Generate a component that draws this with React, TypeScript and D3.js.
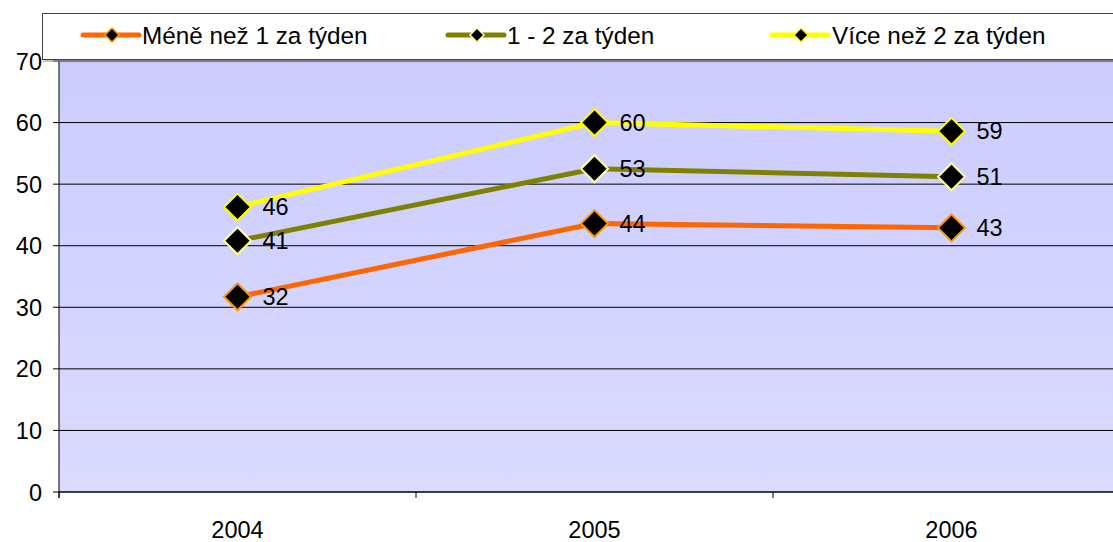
import React from "react";
import * as d3 from "d3";

const years = ["2004", "2005", "2006"];
const seriesNames = ["Méně než 1 za týden", "1 - 2 za týden", "Více než 2 za týden"];
const lessThanOne = [31.7, 43.6, 42.9];
const oneToTwo = [40.8, 52.5, 51.2];
const moreThanTwo = [46.3, 60.0, 58.6];
const yTicks = [0, 10, 20, 30, 40, 50, 60, 70];

const lineColors = ["#ff6600", "#808000", "#ffff00"];
const markerStrokes = ["#ff9900", "#ffff99", "#ffff00"];

export default function App() {
  const W = 1113, H = 542;
  const left = 59, top = 61, bottom = 492;
  const band = 357;
  const x = d3.scaleBand<string>().domain(years).range([left, left + band * 3]);
  const y = d3.scaleLinear().domain([0, 70]).range([bottom, top]);
  const data = [lessThanOne, oneToTwo, moreThanTwo];
  const line = d3
    .line<number>()
    .x((_, i) => (x(years[i]) as number) + x.bandwidth() / 2)
    .y((d) => y(d));
  const font = "'Liberation Sans', Arial, sans-serif";
  const fs = 23.5;
  const lfs = 24.3;
  const diamond = (cx: number, cy: number, r: number) =>
    `M${cx},${cy - r}L${cx + r},${cy}L${cx},${cy + r}L${cx - r},${cy}Z`;

  const legendItems = [
    { lx: 83, tx: 142 },
    { lx: 448, tx: 507 },
    { lx: 772, tx: 832 },
  ];

  return (
    <svg width={W} height={H} style={{ position: "absolute", left: 0, top: 0 }}>
      <defs>
        <linearGradient id="bg" x1="0" y1="0" x2="0" y2="1">
          <stop offset="0" stopColor="#ccccff" />
          <stop offset="1" stopColor="#dadaff" />
        </linearGradient>
      </defs>
      <rect x={0} y={0} width={W} height={H} fill="#ffffff" />
      <rect x={left} y={top} width={W - left} height={bottom - top} fill="url(#bg)" />
      {yTicks.map((t) => (
        <g key={t}>
          {t > 0 && (
            <line x1={left} x2={W} y1={y(t)} y2={y(t)} stroke="#000" strokeWidth={1} />
          )}
          <line x1={left - 6} x2={left} y1={y(t)} y2={y(t)} stroke="#000" strokeWidth={1} />
          <text x={42} y={y(t) + 8.5} fontSize={fs} fontFamily={font} textAnchor="end" fill="#000">
            {t}
          </text>
        </g>
      ))}
      <line x1={left} x2={left} y1={top} y2={bottom + 6} stroke="#000" strokeWidth={1} />
      <line x1={left} x2={W} y1={bottom} y2={bottom} stroke="#000" strokeWidth={1.5} />
      {[0, 1, 2, 3].map((i) => (
        <line key={i} x1={left + band * i} x2={left + band * i} y1={bottom} y2={bottom + 6} stroke="#000" />
      ))}
      {years.map((yr) => (
        <text
          key={yr}
          x={(x(yr) as number) + x.bandwidth() / 2}
          y={538}
          fontSize={fs}
          fontFamily={font}
          textAnchor="middle"
          fill="#000"
        >
          {yr}
        </text>
      ))}
      {data.map((s, si) => (
        <path key={si} d={line(s) || ""} fill="none" stroke={lineColors[si]} strokeWidth={5} />
      ))}
      {data.map((s, si) =>
        s.map((v, i) => {
          const cx = (x(years[i]) as number) + x.bandwidth() / 2;
          const cy = y(v);
          return (
            <g key={`${si}-${i}`}>
              <path d={diamond(cx, cy, 13.5)} fill="#000" stroke={markerStrokes[si]} strokeWidth={2} />
              <text x={cx + 25} y={cy + 8} fontSize={fs} fontFamily={font} fill="#000">
                {Math.round(v)}
              </text>
            </g>
          );
        })
      )}
      <rect x={42.5} y={13.5} width={1090} height={46} fill="#ffffff" stroke="#444" strokeWidth={1} />
      <line x1={43} x2={W} y1={61} y2={61} stroke="#888" strokeWidth={1} />
      {legendItems.map((it, i) => (
        <g key={i}>
          <line x1={it.lx} x2={it.lx + 56} y1={35} y2={35} stroke={lineColors[i]} strokeWidth={5} strokeLinecap="round" />
          <path d={diamond(it.lx + 29, 35, 7)} fill="#000" stroke={markerStrokes[i]} strokeWidth={1.5} />
          <text x={it.tx} y={43.5} fontSize={lfs} fontFamily={font} fill="#000">
            {seriesNames[i]}
          </text>
        </g>
      ))}
    </svg>
  );
}
